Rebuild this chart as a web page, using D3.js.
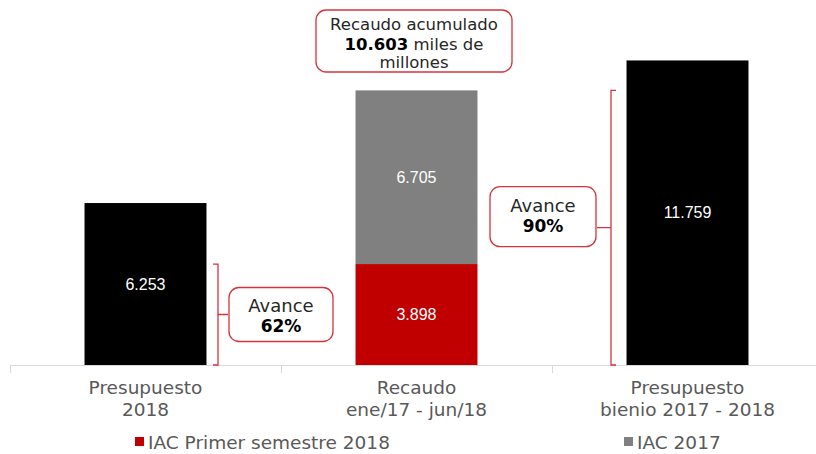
<!DOCTYPE html>
<html>
<head>
<meta charset="utf-8">
<script src="https://cdn.jsdelivr.net/npm/d3@7"></script>
<style>
  body { margin: 0; background: #fff; }
  svg text { font-family: "Century Gothic", "URW Gothic", "DejaVu Sans", sans-serif; }
  svg text.num { font-family: "Liberation Sans", "Arial", sans-serif; }
</style>
</head>
<body>
<svg width="816" height="454"></svg>
<script>
// data uit de grafiek
var categorias = ["p2018", "recaudo", "bienio"];
var etiquetas = [["Presupuesto", "2018"], ["Recaudo", "ene/17 - jun/18"], ["Presupuesto", "bienio 2017 - 2018"]];
var presupuesto = [6253, null, 11759];
var iac2018 = [null, 3898, null];
var iac2017 = [null, 6705, null];
var series = ["IAC Primer semestre 2018", "IAC 2017"];

var rojo = "#c00000", gris = "#808080", linea = "#d3343c";

var svg = d3.select("svg");
var base = 365;

var x = d3.scaleBand().domain(categorias).range([10, 823]).paddingInner(0.55).paddingOuter(0.275);
var y = d3.scaleLinear().domain([0, 12000]).range([base, base - 12000 * 0.0259]);
var fmt = d3.formatLocale({ decimal: ",", thousands: ".", grouping: [3], currency: ["", ""] }).format(",");

// as
var xa = d3.scaleLinear().domain([0, 3]).range([10, 823]);
var axis = svg.append("g")
    .attr("transform", "translate(0," + base + ")")
    .call(d3.axisBottom(xa).tickValues([0, 1, 2, 3]).tickFormat("").tickSizeOuter(0).tickSize(8));
axis.select(".domain").attr("stroke", "#d9d9d9");
axis.selectAll(".tick line").attr("stroke", "#d9d9d9");

// balken
var rows = categorias.map(function (c, i) {
    return { cat: c, pres: presupuesto[i], a: iac2018[i], b: iac2017[i] };
});

function waarde(cx, cy, v) {
    svg.append("text").attr("class", "num").attr("x", cx).attr("y", cy)
        .attr("dy", "0.35em").attr("text-anchor", "middle").attr("fill", "#fff")
        .attr("font-size", 16).text(fmt(v));
}

rows.forEach(function (d) {
    var cx = x(d.cat) + x.bandwidth() / 2;
    if (d.pres != null) {
        svg.append("rect").attr("x", x(d.cat)).attr("width", x.bandwidth())
            .attr("y", y(d.pres)).attr("height", base - y(d.pres)).attr("fill", "#000");
        waarde(cx, y(d.pres / 2), d.pres);
    } else {
        svg.append("rect").attr("x", x(d.cat)).attr("width", x.bandwidth())
            .attr("y", y(d.a)).attr("height", base - y(d.a)).attr("fill", rojo);
        svg.append("rect").attr("x", x(d.cat)).attr("width", x.bandwidth())
            .attr("y", y(d.a + d.b)).attr("height", y(d.a) - y(d.a + d.b)).attr("fill", gris);
        waarde(cx, y(d.a / 2), d.a);
        waarde(cx, y(d.a + d.b / 2), d.b);
    }
});

// categorie labels
categorias.forEach(function (c, i) {
    var t = svg.append("text").attr("x", x(c) + x.bandwidth() / 2).attr("y", 394)
        .attr("text-anchor", "middle").attr("fill", "#595959").attr("font-size", 18.5);
    etiquetas[i].forEach(function (l, j) {
        t.append("tspan").attr("x", x(c) + x.bandwidth() / 2).attr("dy", j ? 22 : 0).text(l);
    });
});

// legenda
var leg = [[135, rojo], [624, gris]];
series.forEach(function (s, i) {
    svg.append("rect").attr("x", leg[i][0]).attr("y", 437).attr("width", 9).attr("height", 9).attr("fill", leg[i][1]);
    svg.append("text").attr("x", leg[i][0] + 13).attr("y", 449).attr("fill", "#595959")
        .attr("font-size", 18.5).text(s);
});

// accolades
function accolade(xv, v0, v1, dir, tx0) {
    var ya = y(v1), yb = y(v0), ym = (ya + yb) / 2;
    var p = d3.path();
    p.moveTo(xv - 5 * dir, ya); p.lineTo(xv, ya); p.lineTo(xv, yb); p.lineTo(xv - 5 * dir, yb);
    p.moveTo(xv, ym); p.lineTo(tx0, ym);
    svg.append("path").attr("d", p.toString()).attr("fill", "none").attr("stroke", linea).attr("stroke-width", 1.3);
    return ym;
}

function kader(x0, y0, w, h) {
    svg.append("rect").attr("x", x0).attr("y", y0).attr("width", w).attr("height", h)
        .attr("rx", 10).attr("fill", "#fff").attr("stroke", linea).attr("stroke-width", 1.3);
}

function avance(cx, y0, pct) {
    svg.append("text").attr("x", cx).attr("y", y0).attr("text-anchor", "middle")
        .attr("fill", "#262626").attr("font-size", 18).text("Avance");
    svg.append("text").attr("x", cx).attr("y", y0 + 20).attr("text-anchor", "middle")
        .attr("fill", "#000").attr("font-size", 17).attr("font-weight", "bold").text(pct);
}

var ym1 = accolade(218, 0, iac2018[1], 1, 228);
kader(229, ym1 - 27, 104, 54);
avance(281, ym1 - 3, d3.format(".0%")(iac2018[1] / presupuesto[0]));

var acum = iac2018[1] + iac2017[1];
var ym2 = accolade(611, 0, acum, -1, 597);
kader(490, ym2 - 41, 106, 60);
avance(543, ym2 - 16, d3.format(".0%")(acum / presupuesto[2]));

// bovenste kader
kader(316, 10, 196, 62);
var t = svg.append("text").attr("x", 414).attr("text-anchor", "middle").attr("fill", "#262626").attr("font-size", 16.5);
t.append("tspan").attr("x", 414).attr("y", 30).text("Recaudo acumulado");
var l2 = t.append("tspan").attr("x", 414).attr("y", 50);
l2.append("tspan").attr("font-weight", "bold").attr("fill", "#000").text(fmt(acum));
l2.append("tspan").text(" miles de");
t.append("tspan").attr("x", 414).attr("y", 68).text("millones");
</script>
</body>
</html>
